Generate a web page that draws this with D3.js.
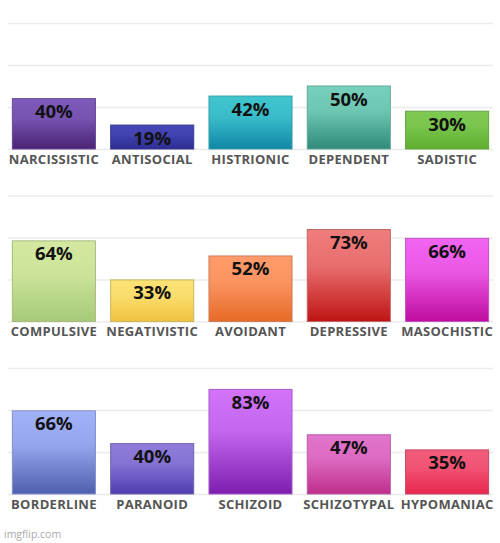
<!DOCTYPE html>
<html>
<head>
<meta charset="utf-8">
<script src="https://cdn.jsdelivr.net/npm/d3@7"></script>
<style>
  html, body { margin: 0; padding: 0; background: #fff; }
  svg { display: block; }
</style>
</head>
<body>
<svg id="chart"></svg>
<script>
// three rows of five disorders each
const categories = [
    ["NARCISSISTIC", "ANTISOCIAL", "HISTRIONIC", "DEPENDENT", "SADISTIC"],
    ["COMPULSIVE", "NEGATIVISTIC", "AVOIDANT", "DEPRESSIVE", "MASOCHISTIC"],
    ["BORDERLINE", "PARANOID", "SCHIZOID", "SCHIZOTYPAL", "HYPOMANIAC"]
];
const values = [
    [40, 19, 42, 50, 30],
    [64, 33, 52, 73, 66],
    [66, 40, 83, 47, 35]
];
const gridTicks = [0, 100 / 3, 200 / 3, 100];

// gradient colours, top -> bottom
const topColors = [
    ["#7e5bbb", "#4747b8", "#40c6cf", "#78d0bc", "#7ec953"],
    ["#d3e8a0", "#fce274", "#ff9b6b", "#ef7d7d", "#f264f2"],
    ["#a2b2f9", "#8f7cda", "#d273fa", "#e274cb", "#f35b7b"]
];
const bottomColors = [
    ["#4a2373", "#2c2c92", "#0f86a6", "#2f8a78", "#5eae2e"],
    ["#a6ca77", "#efc13e", "#e66a26", "#bf1414", "#bf0c9e"],
    ["#4f5fae", "#4f3cb0", "#7d1dae", "#bf2e8c", "#e8274f"]
];

const width = 500;
const height = 543;

const svg = d3.select("#chart")
    .attr("width", width)
    .attr("height", height);

const defs = svg.append("defs");

const baselines = [149, 321.5, 494];
const panelH = 126;

const x = d3.scaleBand()
    .domain(d3.range(5))
    .range([4.5, 496.5])
    .paddingInner(0.155)
    .paddingOuter(0.08);

baselines.forEach((base, p) => {
    const y = d3.scaleLinear()
        .domain([0, 100])
        .range([base, base - panelH]);

    const g = svg.append("g");

    // grid lines
    const grid = g.append("g")
        .attr("transform", `translate(8, 0)`)
        .call(d3.axisLeft(y).tickValues(gridTicks).tickSize(-485).tickFormat(""));
    grid.select(".domain").remove();
    grid.selectAll("line")
        .attr("stroke", "#ebebeb")
        .attr("stroke-width", 1.5);

    const rows = values[p].map((v, i) => ({
        name: categories[p][i],
        value: v,
        top: topColors[p][i],
        bottom: bottomColors[p][i],
        id: `grad-${p}-${i}`
    }));

    rows.forEach(d => {
        const grad = defs.append("linearGradient")
            .attr("id", d.id)
            .attr("x1", 0).attr("y1", 0)
            .attr("x2", 0).attr("y2", 1);
        grad.append("stop").attr("offset", "0%").attr("stop-color", d.top);
        grad.append("stop").attr("offset", "40%").attr("stop-color", d3.interpolateRgb(d.top, d.bottom)(0.15));
        grad.append("stop").attr("offset", "100%").attr("stop-color", d.bottom);
    });

    const bars = g.selectAll(".bar")
        .data(rows)
        .join("g")
        .attr("class", "bar");

    bars.append("rect")
        .attr("x", (d, i) => x(i))
        .attr("y", d => y(d.value))
        .attr("width", x.bandwidth())
        .attr("height", d => y(0) - y(d.value))
        .attr("fill", d => `url(#${d.id})`)
        .attr("stroke", d => d3.color(d.top).darker(0.6))
        .attr("stroke-width", 1);

    bars.append("text")
        .attr("x", (d, i) => x(i) + x.bandwidth() / 2)
        .attr("y", d => y(d.value) + 19.5)
        .attr("text-anchor", "middle")
        .attr("font-family", "'Open Sans', sans-serif")
        .attr("font-weight", "bold")
        .attr("font-size", 18.5)
        .attr("fill", "#111")
        .text(d => d.value + "%");

    bars.append("text")
        .attr("x", (d, i) => x(i) + x.bandwidth() / 2)
        .attr("y", base + 14.5)
        .attr("text-anchor", "middle")
        .attr("font-family", "'Open Sans', sans-serif")
        .attr("font-weight", "bold")
        .attr("font-size", 13)
        .attr("letter-spacing", 0.3)
        .attr("fill", "#555")
        .text(d => d.name);
});

svg.append("text")
    .attr("x", 4)
    .attr("y", 538)
    .attr("font-family", "'Open Sans', sans-serif")
    .attr("font-size", 10.5)
    .attr("fill", "#aaa")
    .text("imgflip.com");
</script>
</body>
</html>
